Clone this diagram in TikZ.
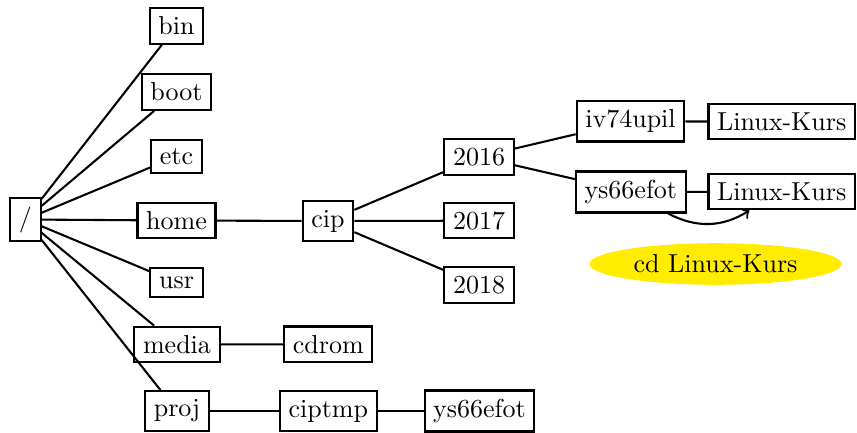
\documentclass[tikz,border=0pt]{standalone}
\usetikzlibrary{shapes.geometric}
\definecolor{hiyellow}{RGB}{255,236,0}
\begin{document}
\begin{tikzpicture}[x=0.3846pt,y=-0.3846pt,
  dirbox/.style={draw,thick,rectangle,inner sep=3.33pt,font=\normalsize},
  link/.style={thick},
  hint/.style={ellipse,fill=hiyellow,inner sep=0pt,minimum width=97pt,minimum height=16pt}]
\useasboundingbox (0,0) rectangle (857,432);
\node[dirbox] (root) at (25.5,219.5) {/};
\node[dirbox] (bin) at (176.5,26) {bin};
\node[dirbox] (boot) at (176.5,92) {boot};
\node[dirbox] (etc) at (176.5,156.5) {etc};
\node[dirbox] (home) at (176.5,220.5) {home};
\node[dirbox] (usr) at (176.5,282.5) {usr};
\node[dirbox] (media) at (177,344.5) {media};
\node[dirbox] (proj) at (177,411) {proj};
\node[dirbox] (cip) at (328,221) {cip};
\node[dirbox] (cdrom) at (328.3,344.3) {cdrom};
\node[dirbox] (ciptmp) at (328.3,411) {ciptmp};
\node[dirbox] (ysproj) at (479.5,411) {ys66efot};
\node[dirbox] (y16) at (479,157) {2016};
\node[dirbox] (y17) at (479,220.7) {2017};
\node[dirbox] (y18) at (479,285) {2018};
\node[dirbox] (iv) at (630.5,121.3) {iv74upil};
\node[dirbox] (ys) at (630.8,192) {ys66efot};
\node[dirbox] (lk1) at (781.7,121.7) {Linux-Kurs};
\node[dirbox] (lk2) at (781.7,191.7) {Linux-Kurs};
\node[hint] (cmd) at (715.5,264) {cd Linux-Kurs};
\foreach \c in {bin,boot,etc,home,usr,media,proj}{\draw[link] (root) -- (\c);}
\draw[link] (home) -- (cip);
\draw[link] (media) -- (cdrom);
\draw[link] (proj) -- (ciptmp);
\draw[link] (ciptmp) -- (ysproj);
\draw[link] (cip) -- (y16);
\draw[link] (cip) -- (y17);
\draw[link] (cip) -- (y18);
\draw[link] (y16) -- (iv);
\draw[link] (y16) -- (ys);
\draw[link] (iv) -- (lk1);
\draw[link] (ys) -- (lk2);
\draw[thick,->] (ys) to[bend right] (lk2);
\end{tikzpicture}
\end{document}
